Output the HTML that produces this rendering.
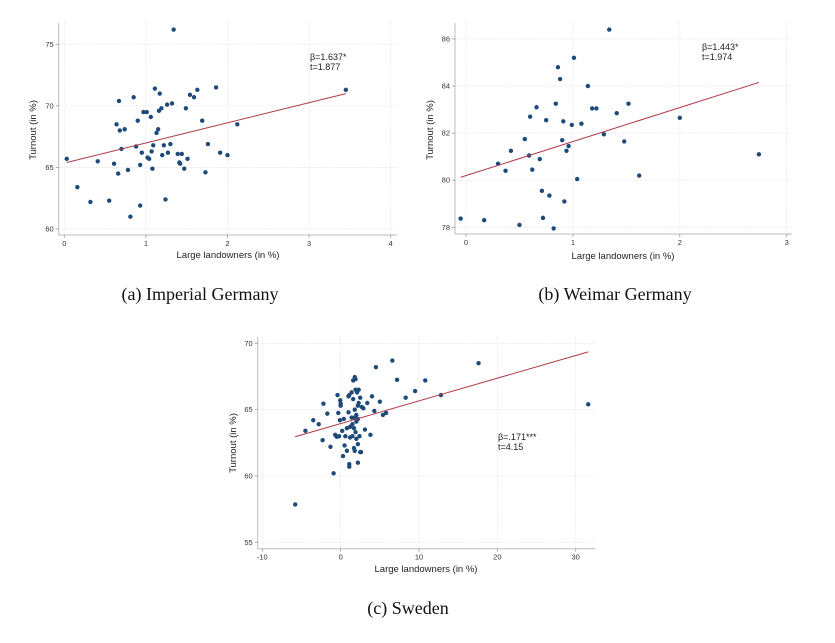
<!DOCTYPE html>
<html><head><meta charset="utf-8"><style>
body{margin:0;background:#fff;width:835px;height:643px;overflow:hidden}
svg{display:block}
</style></head><body>
<svg id="s" width="835" height="643" xmlns="http://www.w3.org/2000/svg"></svg>
<script>
// Panel A: Imperial Germany
const aX=[.03,.16,.32,.41,.55,.61,.64,.66,.67,.68,.70,.74,.78,.81,.85,.88,.90,.93,.93,.95,.97,1.01,1.02,1.04,1.06,1.07,1.08,1.09,1.11,1.13,1.15,1.16,1.17,1.19,1.20,1.22,1.24,1.26,1.27,1.30,1.32,1.34,1.39,1.41,1.42,1.44,1.47,1.49,1.51,1.54,1.59,1.63,1.69,1.73,1.76,1.86,1.91,2.00,2.12,3.45];
const aY=[65.7,63.4,62.2,65.5,62.3,65.3,68.5,64.5,70.4,68.0,66.5,68.1,64.8,61.0,70.7,66.7,68.8,65.2,61.9,66.2,69.5,69.5,65.8,65.7,69.1,66.3,64.9,66.8,71.4,67.8,68.1,69.6,71.0,69.8,66.0,66.8,62.4,70.1,66.2,66.9,70.2,76.2,66.1,65.4,65.3,66.1,64.9,69.8,65.7,70.9,70.7,71.3,68.8,64.6,66.9,71.5,66.2,66.0,68.5,71.3];
const aXTicks=[0,1,2,3,4];
const aYTicks=[60,65,70,75];
const aFit=[65.35,1.637];
// Panel B: Weimar Germany
const bX=[-.05,.17,.30,.37,.42,.50,.55,.59,.60,.62,.66,.69,.71,.72,.75,.78,.82,.84,.86,.88,.90,.91,.92,.94,.96,.99,1.01,1.04,1.08,1.14,1.18,1.22,1.29,1.34,1.41,1.48,1.52,1.62,2.0,2.74];
const bY=[78.37,78.3,80.7,80.4,81.25,78.1,81.75,81.05,82.7,80.45,83.1,80.9,79.55,78.4,82.55,79.35,77.95,83.25,84.8,84.3,81.7,82.5,79.1,81.25,81.45,82.35,85.2,80.05,82.4,84.0,83.05,83.05,81.95,86.4,82.85,81.65,83.25,80.2,82.65,81.1];
const bXTicks=[0,1,2,3];
const bYTicks=[78,80,82,84,86];
const bFit=[80.2,1.443];
// Panel C: Sweden
const cX=[-5.8,-4.5,-3.5,-2.8,-2.3,-2.2,-1.7,-1.3,-.9,-.7,-.5,-.4,-.3,-.2,-.1,-.05,0,0,.2,.3,.4,.5,.6,.8,.8,1.0,1.0,1.1,1.1,1.1,1.2,1.2,1.4,1.4,1.5,1.5,1.6,1.6,1.7,1.7,1.8,1.8,1.8,1.8,1.9,1.9,1.9,2.0,2.0,2.0,2.1,2.2,2.2,2.2,2.2,2.3,2.3,2.4,2.5,2.5,2.6,2.7,2.9,3.1,3.4,3.8,4.0,4.3,4.5,5.0,5.4,5.8,6.6,7.2,8.3,9.5,10.8,12.8,17.6,31.6];
const cY=[57.85,63.4,64.2,63.9,62.7,65.45,64.7,62.2,60.2,63.1,62.95,66.1,64.75,63.0,64.2,65.7,65.45,65.3,63.4,61.5,64.3,62.3,63.0,61.9,63.6,66.0,64.8,60.7,66.1,60.9,63.7,62.9,64.4,66.3,63.0,63.9,65.8,67.2,62.1,63.6,65.0,67.45,64.4,61.9,63.3,66.5,67.3,64.1,62.8,64.6,66.3,65.3,61.0,62.4,64.3,66.5,65.5,63.0,61.8,65.9,61.8,65.2,65.1,63.5,65.5,63.1,66.0,64.9,68.2,65.6,64.6,64.75,68.7,67.25,65.9,66.4,67.2,66.1,68.5,65.4];
const cXTicks=[-10,0,10,20,30];
const cYTicks=[55,60,65,70];
const cFit=[63.95,.171];

const NS="http://www.w3.org/2000/svg";
const svg=document.getElementById('s');
function el(tag,attrs,parent,text){const e=document.createElementNS(NS,tag);for(const k in attrs)e.setAttribute(k,attrs[k]);if(text!==undefined)e.textContent=text;(parent||svg).appendChild(e);return e;}

function panel(o){
  const g=el('g',{});
  
  
  const sx=v=>o.x0px+(v-o.x0)*(o.x1px-o.x0px)/(o.x1-o.x0);
  const sy=v=>o.y0px+(v-o.y0)*(o.y1px-o.y0px)/(o.y1-o.y0);
  // grid
  o.xt.forEach(t=>{const l=el('line',{x1:sx(t),x2:sx(t),y1:o.top,y2:o.bot,stroke:'#dcdcdc','stroke-width':0.8,'stroke-dasharray':'1,1.5'},g);});
  o.yt.forEach(t=>{const l=el('line',{x1:o.left,x2:o.right,y1:sy(t),y2:sy(t),stroke:'#dcdcdc','stroke-width':0.8,'stroke-dasharray':'1,1.5'},g);});
  // axes
  const ax=el('line',{x1:o.left,x2:o.right,y1:o.bot,y2:o.bot,stroke:'#bbb','stroke-width':1},g);
  
  const ay=el('line',{x1:o.left,x2:o.left,y1:o.top,y2:o.bot,stroke:'#bbb','stroke-width':1},g);
  
  o.xt.forEach(t=>{
    el('line',{x1:sx(t),x2:sx(t),y1:o.bot,y2:o.bot+3,stroke:'#999','stroke-width':0.8},g);
    const tx=el('text',{x:sx(t),y:o.bot+11,'text-anchor':'middle','font-size':7.5,fill:'#333','font-family':'Liberation Sans, sans-serif'},g,String(t));
    
  });
  o.yt.forEach(t=>{
    el('line',{x1:o.left-3,x2:o.left,y1:sy(t),y2:sy(t),stroke:'#999','stroke-width':0.8},g);
    const tx=el('text',{x:o.left-5,y:sy(t)+2.5,'text-anchor':'end','font-size':7.5,fill:'#333','font-family':'Liberation Sans, sans-serif'},g,String(t));
    
  });
  // points
  o.X.forEach((x,i)=>{
    const c=el('circle',{cx:sx(x),cy:sy(o.Y[i]),r:2.2,fill:'#1d4a78'},g);
    
    
  });
  // fit line
  const xmin=Math.min(...o.X),xmax=Math.max(...o.X);
  const fl=el('line',{x1:sx(xmin),y1:sy(o.fit[0]+o.fit[1]*xmin),x2:sx(xmax),y2:sy(o.fit[0]+o.fit[1]*xmax),stroke:'#b03a48','stroke-width':1},g);
  
  // labels
  const xl=el('text',{x:o.xlx,y:o.xly,'text-anchor':'middle','font-size':9.5,fill:'#222','font-family':'Liberation Sans, sans-serif'},g,'Large landowners (in %)');
  
  const yl=el('text',{x:0,y:0,'text-anchor':'middle','font-size':9.5,fill:'#222','font-family':'Liberation Sans, sans-serif',transform:`translate(${o.ylx},${o.yly}) rotate(-90)`},g,'Turnout (in %)');
  
  const a1=el('text',{x:o.ax,y:o.ay,'font-size':9,fill:'#222','font-family':'Liberation Sans, DejaVu Sans, sans-serif'},g,o.beta);
  
  const a2=el('text',{x:o.ax,y:o.ay+10,'font-size':9,fill:'#222','font-family':'Liberation Sans, sans-serif'},g,o.tstat);
  
  const cap=el('text',{x:o.capx,y:o.capy,'text-anchor':'middle','font-size':18,fill:'#111','font-family':'Liberation Serif, serif'},g,o.cap);
  
}

panel({name:'panel-imperial-germany',X:aX,Y:aY,xt:aXTicks,yt:aYTicks,fit:aFit,
 x0:0,x1:4,x0px:64.3,x1px:390.7,y0:60,y1:75,y0px:229,y1px:44.3,
 left:58.7,right:397,top:23,bot:235,xlx:228,xly:258,ylx:36,yly:130,
 ax:310,ay:60,beta:'β=1.637*',tstat:'t=1.877',capx:200,capy:300,cap:'(a) Imperial Germany'});
panel({name:'panel-weimar-germany',X:bX,Y:bY,xt:bXTicks,yt:bYTicks,fit:bFit,
 x0:0,x1:3,x0px:466,x1px:786.7,y0:78,y1:86,y0px:227.3,y1px:39,
 left:455,right:792,top:23,bot:234,xlx:623,xly:259,ylx:433,yly:130,
 ax:702,ay:50,beta:'β=1.443*',tstat:'t=1.974',capx:615,capy:300,cap:'(b) Weimar Germany'});
panel({name:'panel-sweden',X:cX,Y:cY,xt:cXTicks,yt:cYTicks,fit:cFit,
 x0:-10,x1:30,x0px:262.3,x1px:575.7,y0:55,y1:70,y0px:542.3,y1px:343.3,
 left:257.7,right:595,top:337,bot:548.7,xlx:426,xly:572,ylx:236,yly:443,
 ax:498,ay:440,beta:'β=.171***',tstat:'t=4.15',capx:408,capy:614,cap:'(c) Sweden'});
</script>
</body></html>
